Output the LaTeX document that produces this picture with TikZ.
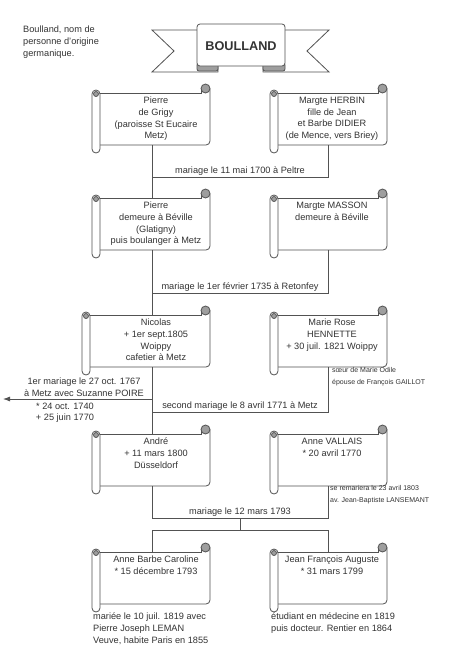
\documentclass[tikz,border=0pt]{standalone}
\usepackage{fontspec}
\setmainfont{Liberation Sans}
\usetikzlibrary{arrows.meta}
\definecolor{lnc}{gray}{0.32}
\definecolor{curlc}{gray}{0.62}
\definecolor{txt}{gray}{0.2}
\tikzset{
  sline/.style={draw=lnc, line width=0.8pt},
  conn/.style={draw=lnc, line width=0.8pt},
  boxtext/.style={anchor=north, align=center, font=\fontsize{9.2}{11.6}\selectfont, inner sep=1pt, text=txt},
  lbl/.style={font=\fontsize{9.2}{11.6}\selectfont, inner sep=1.5pt, text=txt},
  small/.style={font=\fontsize{7}{12}\selectfont, inner sep=0pt, text=txt, align=left, anchor=north west},
  note/.style={font=\fontsize{9.2}{11.6}\selectfont, inner sep=0pt, text=txt, align=left, anchor=north west}
}
% #1 name #2 L #3 R #4 T #5 text x #6 connector x #7 text
\newcommand\Scroll[7]{%
  \draw[sline] (#2+4,#4) -- (#3-9,#4) -- (#3-9,#4-4.5);
  \draw[sline] (#3,#4-4.5) -- (#3,#4+48) arc[start angle=0,end angle=90,radius=4] -- (#2+8,#4+52);
  \draw[sline,fill=curlc] (#3-4.5,#4-4.5) circle[radius=4.5];
  \draw[sline,fill=white,rounded corners=4] (#2,#4-3) rectangle (#2+8,#4+60);
  \draw[sline,fill=curlc] (#2+4,#4+1) circle[radius=2.5];
  \node[boxtext] (#1) at (#5,#4+3) {#7};
  \coordinate (#1t) at (#6,#4);
  \coordinate (#1b) at (#6,#4+52);
}
\begin{document}
\begin{tikzpicture}[x=1pt,y=-1pt]
\useasboundingbox[fill=white] (0,0) rectangle (458,670);

% intro text
\node[note] (intro) at (23,26) {Boulland, nom de\\personne d'origine\\germanique.};

% banner
\draw[sline,fill=white] (200,30) -- (152,30) -- (174,51) -- (152,72) -- (218,72) -- (218,66);
\draw[sline,fill=white] (282,30) -- (329,30) -- (307,51) -- (329,72) -- (263,72) -- (263,66);
\draw[sline,fill=curlc,rounded corners=2] (197,63) rectangle (218,71);
\draw[sline,fill=curlc,rounded corners=2] (263,63) rectangle (285,71);
\draw[sline,fill=white,rounded corners=3] (197,66) -- (197,24) -- (285,24) -- (285,66) -- cycle;
\node[font=\bfseries\fontsize{12.7}{14}\selectfont, text=txt] (title) at (241,46) {BOULLAND};

% row 1
\Scroll{pa}{92}{210}{93}{156}{152}{Pierre\\de Grigy\\(paroisse St Eucaire\\Metz)}
\Scroll{ha}{270}{387}{93}{332}{328}{Margte HERBIN\\fille de Jean\\et Barbe DIDIER\\(de Mence, vers Briey)}
% row 2
\Scroll{pb}{92}{210}{198}{156}{152}{Pierre\\demeure à Béville\\(Glatigny)\\puis boulanger à Metz}
\Scroll{hb}{270}{387}{198}{332}{328}{Margte MASSON\\demeure à Béville}
% row 3
\Scroll{pc}{82}{210}{315}{156}{152}{Nicolas\\+ 1er sept.1805\\Woippy\\cafetier à Metz}
\Scroll{hc}{270}{387}{315}{332}{328}{Marie Rose\\HENNETTE\\+ 30 juil. 1821 Woippy}
% row 4
\Scroll{pd}{92}{210}{434}{156}{152}{André\\+ 11 mars 1800\\Düsseldorf}
\Scroll{hd}{270}{387}{434}{332}{328}{Anne VALLAIS\\* 20 avril 1770}
% row 5
\Scroll{ca}{92}{210}{552}{156}{152}{Anne Barbe Caroline\\* 15 décembre 1793}
\Scroll{cb}{270}{387}{552}{332}{328}{Jean François Auguste\\* 31 mars 1799}

% junction coordinates
\coordinate (m1) at (152,177);
\coordinate (m2) at (152,293);
\coordinate (m3a) at (152,399);
\coordinate (arr) at (3,399);
\coordinate (m3) at (152,412);
\coordinate (m4) at (152,518);
\coordinate (m4c) at (240,518);
\coordinate (k) at (240,530);

% connectors
\draw[conn] (pab) -- (pbt);
\draw[conn] (hab) |- (m1);
\draw[conn] (pbb) -- (pct);
\draw[conn] (hbb) |- (m2);
\draw[conn] (pcb) -- (pdt);
\draw[conn,-{Latex[length=7pt,width=5pt]}] (m3a) -- (arr);
\draw[conn] (hcb) |- (m3);
\draw[conn] (pdb) -- (m4);
\draw[conn] (hdb) |- (m4);
\draw[conn] (m4c) -- (k);
\draw[conn] (cat) |- (k);
\draw[conn] (cbt) |- (k);

% labels
\node[lbl,anchor=south] (l1) at (240,177) {mariage le 11 mai 1700 à Peltre};
\node[lbl,anchor=south] (l2) at (240,293) {mariage le 1er février 1735 à Retonfey};
\node[lbl,anchor=south] (l3) at (240,412) {second mariage le 8 avril 1771 à Metz};
\node[lbl,anchor=south] (l4) at (240,518) {mariage le 12 mars 1793};
\node[lbl,anchor=south,align=center] (l5) at (84,398) {1er mariage le 27 oct. 1767\\à Metz avec Suzanne POIRE};
\node[lbl,anchor=north,align=center] (l6) at (65,401) {* 24 oct. 1740\\+ 25 juin 1770};

\node[small] (s1) at (332,367) {sœur de Marie Odile\\épouse de François GAILLOT};
\node[small] (s2) at (330,485) {se remariera le 23 avril 1803\\av. Jean-Baptiste LANSEMANT};

\node[note] (n1) at (93,613) {mariée le 10 juil. 1819 avec\\Pierre Joseph LEMAN\\Veuve, habite Paris en 1855};
\node[note] (n2) at (271,613) {étudiant en médecine en 1819\\puis docteur. Rentier en 1864};
\end{tikzpicture}
\end{document}
